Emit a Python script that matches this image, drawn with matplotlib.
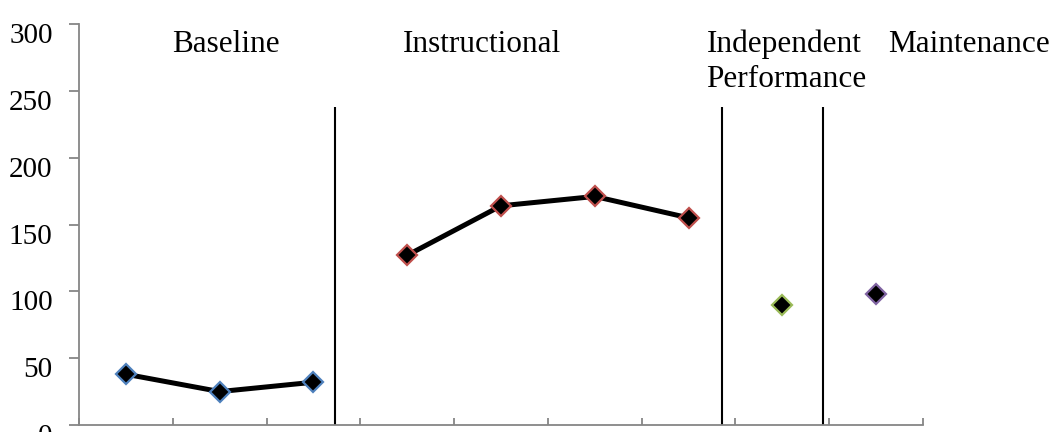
import matplotlib.pyplot as plt
import matplotlib.transforms as mtransforms

# sessions by phase (index of session on the x axis) and scores
baseline_x = [0, 1, 2]
baseline_y = [38, 25, 32]
instr_x = [3, 4, 5, 6]
instr_y = [127, 164, 171, 155]
indep_x = [7]
indep_y = [90]
maint_x = [8]
maint_y = [98]

phase_lines = [2.23, 6.36, 7.43]
phase_names = ['Baseline', 'Instructional', 'Independent', 'Maintenance']
phase_label_x = [0.49, 2.95, 6.19, 8.13]
y_ticks = [0, 50, 100, 150, 200, 250, 300]

fig = plt.figure(figsize=(10.58, 4.32), dpi=100)
ax = fig.add_axes([0.0747, 0.0162, 0.8724 - 0.0747, 0.9444 - 0.0162])

mk = dict(marker='D', ms=10.5, mfc='k', mew=1.6)
ax.plot(baseline_x, baseline_y, color='k', lw=3.6, mec='#4F81BD', **mk)
ax.plot(instr_x, instr_y, color='k', lw=3.6, mec='#C0504D', **mk)
ax.plot(indep_x, indep_y, ls='none', mec='#9BBB59', **mk)
ax.plot(maint_x, maint_y, ls='none', mec='#8064A2', **mk)

ax.vlines(phase_lines, 0, 238, color='k', lw=1.5)

for name, x in zip(phase_names, phase_label_x):
    ax.text(x, 279, name, ha='left', va='baseline', fontsize=22.5,
            family='Liberation Serif', clip_on=False)
# second line of the independent phase label
ax.text(phase_label_x[2], 253, 'Performance', ha='left', va='baseline',
        fontsize=22.5, family='Liberation Serif', clip_on=False)

ax.set_xlim(-0.5, 8.5)
ax.set_ylim(0, 300)
ax.set_yticks(y_ticks)
ax.set_xticks([])
ax.set_xticks([i - 0.5 for i in range(10)], minor=True)

for s in ['top', 'right']:
    ax.spines[s].set_visible(False)
for s in ['left', 'bottom']:
    ax.spines[s].set_color('#868686')
    ax.spines[s].set_linewidth(1.3)

ax.tick_params(axis='y', direction='out', length=7, width=1.3, color='#868686',
               pad=12, labelsize=21)
ax.tick_params(axis='x', which='minor', direction='in', length=5, width=1.3,
               color='#868686')
for lab in ax.get_yticklabels():
    lab.set_family('Liberation Serif')
    lab.set_transform(lab.get_transform() +
                      mtransforms.ScaledTranslation(0, -9 / 100, fig.dpi_scale_trans))

fig.savefig('out.png', dpi=100)
